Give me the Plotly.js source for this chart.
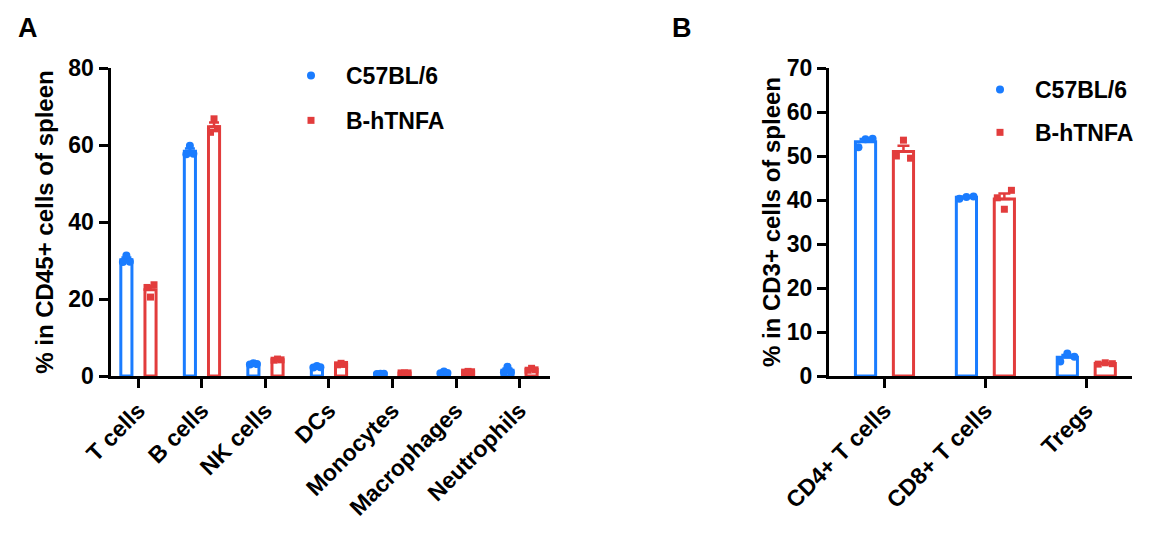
<!DOCTYPE html>
<html>
<head>
<meta charset="utf-8">
<script src="https://cdn.plot.ly/plotly-3.0.1.min.js"></script>
<style>html,body{margin:0;padding:0;background:#fff;}#chart{width:1159px;height:556px;}</style>
</head>
<body>
<div id="chart"></div>
<script>
// ---------- DATA ----------
const seriesNames = ["C57BL/6", "B-hTNFA"];

// Panel A: % in CD45+ cells of spleen (3 mice each, left / centre / right)
const catsA = ["T cells", "B cells", "NK cells", "DCs", "Monocytes", "Macrophages", "Neutrophils"];
const wtPointsA = [
  [29.6, 31.3, 29.7],
  [57.6, 59.8, 57.7],
  [3.0, 3.3, 3.1],
  [2.2, 2.6, 2.3],
  [0.5, 0.6, 0.6],
  [0.7, 1.2, 0.8],
  [1.0, 2.4, 1.0]
];
const tgPointsA = [
  [23.0, 20.5, 23.7],
  [63.3, 66.8, 64.2],
  [4.1, 4.4, 4.2],
  [2.9, 3.3, 3.0],
  [0.8, 0.8, 0.8],
  [1.0, 1.2, 1.1],
  [1.5, 2.0, 1.6]
];

// Panel B: % in CD3+ cells of spleen
const catsB = ["CD4+ T cells", "CD8+ T cells", "Tregs"];
const wtPointsB = [
  [52.0, 53.8, 53.9],
  [40.3, 40.7, 40.8],
  [3.3, 5.1, 4.4]
];
const tgPointsB = [
  [50.0, 53.6, 49.5],
  [40.5, 37.9, 42.2],
  [2.7, 3.0, 2.8]
];

// ---------- STYLE ----------
const BLUE = "#1a7cff";
const RED = "#e23c3c";
const FONT = "Liberation Sans, Arial, Helvetica, sans-serif";

function mean(a) { return a.reduce((s, v) => s + v, 0) / a.length; }
function sem(a) {
  const m = mean(a);
  const v = a.reduce((s, x) => s + (x - m) * (x - m), 0) / (a.length - 1);
  return Math.sqrt(v) / Math.sqrt(a.length);
}

function barTrace(points, color, xa, ya, width, offset, capw) {
  const idx = points.map((_, i) => i);
  return {
    type: "bar",
    x: idx,
    y: points.map(mean),
    width: width,
    offset: offset,
    xaxis: xa, yaxis: ya,
    marker: { color: "rgba(255,255,255,1)", line: { color: color, width: 3 } },
    error_y: {
      type: "data", symmetric: false,
      array: points.map(sem),
      arrayminus: points.map(() => 0),
      color: color, thickness: 2.5, width: capw
    },
    showlegend: false,
    hoverinfo: "skip"
  };
}

function pointTrace(points, color, symbol, size, xa, ya, centre, jit, name, legend, showlegend) {
  const xs = [], ys = [];
  points.forEach((grp, i) => {
    grp.forEach((v, j) => {
      xs.push(i + centre + jit[j]);
      ys.push(v);
    });
  });
  return {
    type: "scatter", mode: "markers",
    x: xs, y: ys, xaxis: xa, yaxis: ya,
    name: name,
    legend: legend,
    legendgroup: legend + name,
    showlegend: showlegend,
    marker: { color: color, symbol: symbol, size: size, line: { width: 0 } },
    cliponaxis: false
  };
}

const wA = 0.175, cA = 0.19;
const wB = 0.20, cB = 0.188;
const jitA = [-0.055, 0, 0.055];
const jitB = [-0.07, 0, 0.07];

const data = [
  barTrace(wtPointsA, BLUE, "x", "y", wA, -cA - wA / 2, 5),
  barTrace(tgPointsA, RED, "x", "y", wA, cA - wA / 2, 5),
  barTrace(wtPointsB, BLUE, "x2", "y2", wB, -cB - wB / 2, 6),
  barTrace(tgPointsB, RED, "x2", "y2", wB, cB - wB / 2, 6),
  pointTrace(wtPointsA, BLUE, "circle", 8, "x", "y", -cA, jitA, seriesNames[0], "legend", true),
  pointTrace(tgPointsA, RED, "square", 7, "x", "y", cA, jitA, seriesNames[1], "legend", true),
  pointTrace(wtPointsB, BLUE, "circle", 8, "x2", "y2", -cB, jitB, seriesNames[0], "legend2", true),
  pointTrace(tgPointsB, RED, "square", 7, "x2", "y2", cB, jitB, seriesNames[1], "legend2", true)
];

const tickFont = { family: FONT, size: 23, color: "#000", weight: "bold" };
const titleFont = { family: FONT, size: 24, color: "#000", weight: "bold" };
const legFont = { family: FONT, size: 23, color: "#000", weight: "bold" };

function xAxis(domain, range, cats, anchor) {
  return {
    domain: domain, range: range, anchor: anchor,
    tickmode: "array", tickvals: cats.map((_, i) => i), ticktext: cats,
    tickangle: -45, tickfont: tickFont,
    ticks: "outside", ticklen: 9, tickwidth: 3, tickcolor: "#000",
    showline: true, linewidth: 3, linecolor: "#000",
    showgrid: false, zeroline: false, fixedrange: true
  };
}
function yAxis(domain, range, dtick, anchor, title, standoff) {
  return {
    domain: domain, range: range, anchor: anchor, dtick: dtick, tick0: 0,
    tickfont: tickFont,
    ticks: "outside", ticklen: 9, tickwidth: 3, tickcolor: "#000",
    showline: true, linewidth: 3, linecolor: "#000",
    showgrid: false, zeroline: false, fixedrange: true,
    title: { text: title, font: titleFont, standoff: standoff }
  };
}

const yDom = [1 - 376 / 556, 1 - 68 / 556];
const layout = {
  width: 1159, height: 556,
  margin: { l: 0, r: 0, t: 0, b: 0 },
  paper_bgcolor: "#fff", plot_bgcolor: "rgba(0,0,0,0)",
  barmode: "overlay",
  font: { family: FONT, color: "#000" },
  xaxis: xAxis([110.5 / 1159, 550 / 1159], [-0.44, 6.48], catsA, "y"),
  yaxis: yAxis(yDom, [0, 80], 20, "x", "% in CD45+ cells of spleen", 8),
  xaxis2: xAxis([829 / 1159, 1131.7 / 1159], [-0.55, 2.45], catsB, "y2"),
  yaxis2: yAxis(yDom, [0, 70], 10, "x2", "% in CD3+ cells of spleen", 0),
  legend: {
    x: 276 / 1159, y: 1 - 54 / 556, xanchor: "left", yanchor: "top",
    font: legFont, bgcolor: "rgba(0,0,0,0)", tracegroupgap: 12, itemwidth: 60
  },
  legend2: {
    x: 965 / 1159, y: 1 - 68 / 556, xanchor: "left", yanchor: "top",
    font: legFont, bgcolor: "rgba(0,0,0,0)", tracegroupgap: 10, itemwidth: 60
  },
  annotations: [
    { text: "A", xref: "paper", yref: "paper", x: 28 / 1159, y: 1 - 28 / 556,
      xanchor: "center", yanchor: "middle", showarrow: false,
      font: { family: FONT, size: 27, color: "#000", weight: "bold" } },
    { text: "B", xref: "paper", yref: "paper", x: 682 / 1159, y: 1 - 28 / 556,
      xanchor: "center", yanchor: "middle", showarrow: false,
      font: { family: FONT, size: 27, color: "#000", weight: "bold" } }
  ],
  showlegend: true
};

Plotly.newPlot("chart", data, layout, { staticPlot: true, displayModeBar: false });
</script>
</body>
</html>
